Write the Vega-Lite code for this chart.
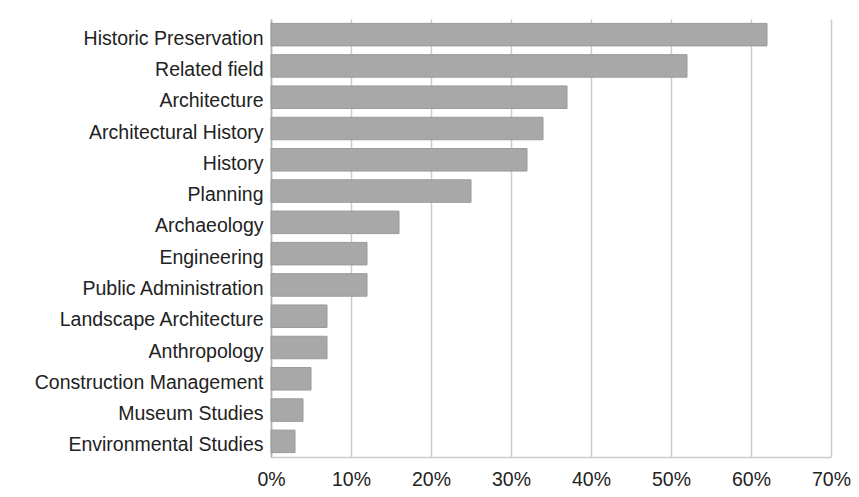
{
  "$schema": "https://vega.github.io/schema/vega-lite/v6.json",
  "autosize": {"type": "none"},
  "width": 560,
  "height": 438,
  "padding": {"left": 271, "top": 19, "right": 28, "bottom": 40},
  "background": "#ffffff",
  "data": {
    "values": [
      {"field": "Historic Preservation", "share": 0.62},
      {"field": "Related field", "share": 0.52},
      {"field": "Architecture", "share": 0.37},
      {"field": "Architectural History", "share": 0.34},
      {"field": "History", "share": 0.32},
      {"field": "Planning", "share": 0.25},
      {"field": "Archaeology", "share": 0.16},
      {"field": "Engineering", "share": 0.12},
      {"field": "Public Administration", "share": 0.12},
      {"field": "Landscape Architecture", "share": 0.07},
      {"field": "Anthropology", "share": 0.07},
      {"field": "Construction Management", "share": 0.05},
      {"field": "Museum Studies", "share": 0.04},
      {"field": "Environmental Studies", "share": 0.03}
    ]
  },
  "mark": {"type": "bar", "fill": "#a8a8a8", "stroke": "#9a9a9a", "strokeWidth": 1},
  "encoding": {
    "y": {
      "field": "field",
      "type": "nominal",
      "sort": null,
      "scale": {"paddingInner": 0.28, "paddingOuter": 0.14},
      "axis": {
        "title": null,
        "ticks": false,
        "grid": false,
        "labelPadding": 8,
        "labelOffset": 4,
        "labelFontSize": 19.5,
        "labelFont": "Liberation Sans",
        "labelColor": "#222222",
        "labelLimit": 0,
        "domainColor": "#b0b0b0",
        "domainWidth": 1.5
      }
    },
    "x": {
      "field": "share",
      "type": "quantitative",
      "scale": {"domain": [0, 0.7], "nice": false},
      "axis": {
        "title": null,
        "format": ".0%",
        "values": [0, 0.1, 0.2, 0.3, 0.4, 0.5, 0.6, 0.7],
        "ticks": false,
        "labelPadding": 13,
        "labelFontSize": 19.5,
        "labelFont": "Liberation Sans",
        "labelColor": "#222222",
        "labelFlush": false,
        "grid": true,
        "gridColor": "#cccccc",
        "gridWidth": 1.5,
        "domainColor": "#cccccc",
        "domainWidth": 1.5
      }
    }
  },
  "config": {
    "view": {"stroke": null}
  }
}
